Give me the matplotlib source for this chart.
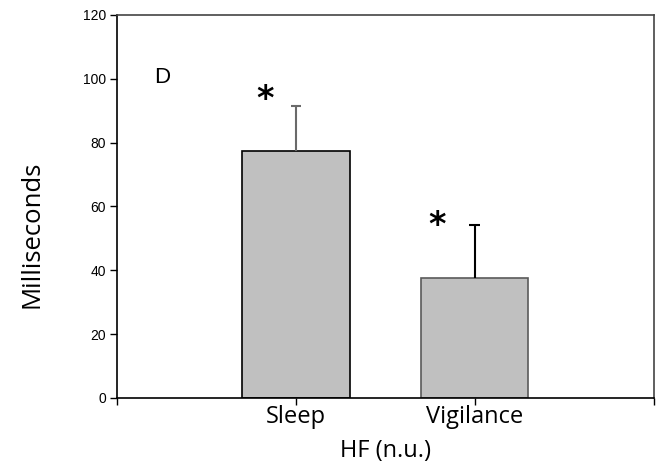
import matplotlib.pyplot as plt

groups = ['Sleep', 'Vigilance']
means = [77.5, 37.7]
sem = [14.0, 16.4]
bar_edges = ['black', '#5a5a5a']
err_colors = ['#6a6a6a', 'black']

fig = plt.figure(figsize=(6.61, 4.66), dpi=100)
ax = fig.add_axes([0.177, 0.146, 0.812, 0.822])

pos = [1, 2]
cap = 0.03
for x, m, s, ec, erc in zip(pos, means, sem, bar_edges, err_colors):
    ax.bar(x, m, width=0.6, color='#c0c0c0', edgecolor=ec, linewidth=1.2, zorder=2)
    # upper error bar only, cap at the top
    ax.vlines(x, m, m + s, color=erc, linewidth=1.5, zorder=3)
    ax.hlines(m + s, x - cap, x + cap, color=erc, linewidth=1.5, zorder=3)

# significance stars
ax.text(pos[0] - 0.17, means[0] + sem[0] + 2, '*', fontsize=24, fontweight='bold',
        ha='center', va='center', family='DejaVu Sans')
ax.text(pos[1] - 0.21, means[1] + sem[1], '*', fontsize=24, fontweight='bold',
        ha='center', va='center', family='DejaVu Sans')
ax.text(0.25, 100.5, 'D', fontsize=16, ha='center', va='center', family='Liberation Sans')

ax.set_xlim(0, 3)
ax.set_ylim(0, 120)
ax.set_xticks([0, 1, 2, 3])
ax.set_xticklabels(['', groups[0], groups[1], ''], fontsize=17, family='Open Sans')
ax.set_yticks(range(0, 121, 20))
ax.set_yticklabels([str(v) for v in range(0, 121, 20)], fontsize=10, family='Liberation Sans')
ax.tick_params(axis='both', direction='out', length=5, width=1, pad=3)
ax.tick_params(axis='x', pad=0)

ax.set_xlabel('HF (n.u.)', fontsize=17, family='Open Sans', labelpad=7)
ax.set_ylabel('Milliseconds', fontsize=18.5, family='Open Sans')
ax.yaxis.set_label_coords(-0.135, 0.426)

for side in ['left', 'bottom']:
    ax.spines[side].set_color('black')
    ax.spines[side].set_linewidth(1.2)
for side in ['top', 'right']:
    ax.spines[side].set_color('#444444')
    ax.spines[side].set_linewidth(1.2)

fig.savefig('out.png', dpi=100)
